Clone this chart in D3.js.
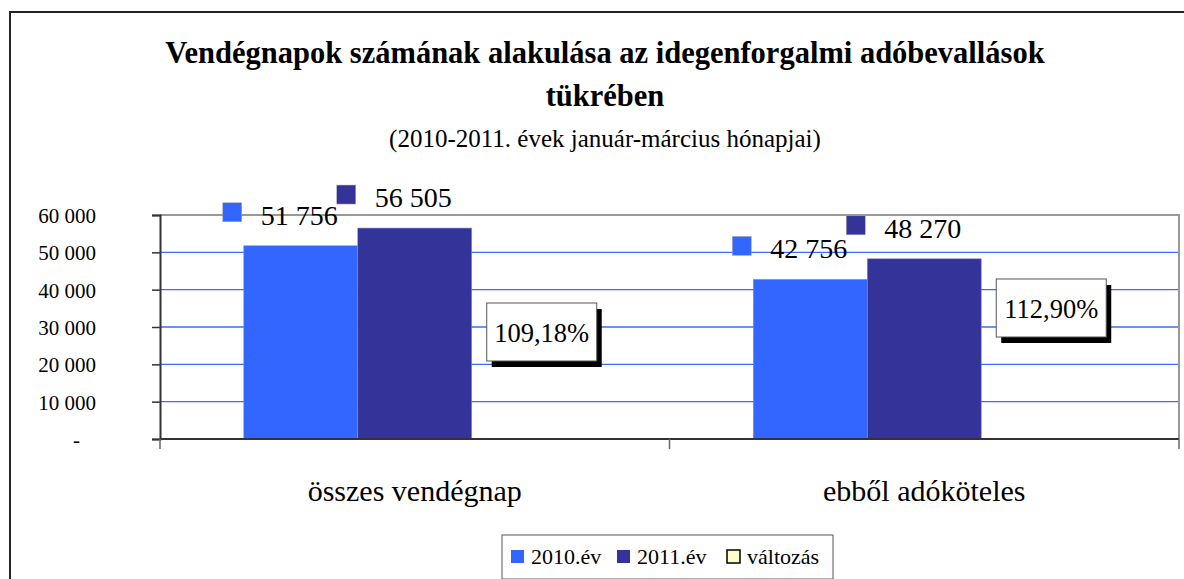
<!DOCTYPE html>
<html>
<head>
<meta charset="utf-8">
<script src="https://cdn.jsdelivr.net/npm/d3@7"></script>
<style>
  body { margin: 0; background: #fff; }
  svg text { font-family: "Liberation Serif", "DejaVu Serif", serif !important; }
</style>
</head>
<body>
<svg width="1184" height="579"></svg>
<script>
// data
var categories = ["összes vendégnap", "ebből adóköteles"];
var seriesNames = ["2010.év", "2011.év", "változás"];
var values2010 = [51756, 42756];
var values2011 = [56505, 48270];
var changeValues = [1.0918, 1.1290];
var changeLabels = ["109,18%", "112,90%"];
var yTickValues = [0, 10000, 20000, 30000, 40000, 50000, 60000];

var colors = ["#3366ff", "#333399", "#ffffcc"];

var svg = d3.select("svg"),
    width = +svg.attr("width"),
    height = +svg.attr("height");

var hu = d3.formatLocale({decimal: ",", thousands: " ", grouping: [3], currency: ["", ""]});
var fmt = hu.format(",.0f");

var plot = {left: 160, right: 1179, top: 215, bottom: 439};

// outer chart border
svg.append("rect")
    .attr("x", 10).attr("y", 12)
    .attr("width", width + 20).attr("height", height + 20)
    .attr("fill", "none")
    .attr("stroke", "#222")
    .attr("stroke-width", 2);

// titles
svg.append("text")
    .attr("x", 605).attr("y", 63)
    .attr("text-anchor", "middle")
    .attr("font-size", 30.5).attr("font-weight", "bold")
    .text("Vendégnapok számának alakulása az idegenforgalmi adóbevallások");
svg.append("text")
    .attr("x", 605).attr("y", 106)
    .attr("text-anchor", "middle")
    .attr("font-size", 30.5).attr("font-weight", "bold")
    .text("tükrében");
svg.append("text")
    .attr("x", 605).attr("y", 147)
    .attr("text-anchor", "middle")
    .attr("font-size", 25)
    .text("(2010-2011. évek január-március hónapjai)");

var x0 = d3.scaleBand()
    .domain(categories)
    .range([plot.left, plot.right]);

var x1 = d3.scaleBand()
    .domain(seriesNames)
    .range([0, x0.bandwidth()])
    .paddingOuter(0.735);

var y = d3.scaleLinear()
    .domain([0, 60000])
    .range([plot.bottom, plot.top]);

// gridlines
svg.append("g")
  .selectAll("line")
  .data(yTickValues.filter(function(d) { return d > 0; }))
  .enter().append("line")
    .attr("x1", plot.left).attr("x2", plot.right)
    .attr("y1", function(d) { return y(d); })
    .attr("y2", function(d) { return y(d); })
    .attr("stroke", "#3d6bff")
    .attr("stroke-width", 1.3);

// plot area border (top + right)
svg.append("path")
    .attr("d", "M" + plot.left + "," + plot.top + "H" + plot.right + "V" + plot.bottom)
    .attr("fill", "none")
    .attr("stroke", "#999")
    .attr("stroke-width", 2);

var rows = categories.map(function(c, i) {
  return {cat: c, vals: [values2010[i], values2011[i], changeValues[i]]};
});

var groups = svg.append("g")
  .selectAll("g")
  .data(rows)
  .enter().append("g")
    .attr("transform", function(d) { return "translate(" + x0(d.cat) + ",0)"; });

groups.selectAll("rect")
  .data(function(d) { return d.vals.slice(0, 2).map(function(v, j) { return {s: seriesNames[j], v: v, j: j}; }); })
  .enter().append("rect")
    .attr("x", function(d) { return x1(d.s); })
    .attr("width", x1.bandwidth())
    .attr("y", function(d) { return y(d.v); })
    .attr("height", function(d) { return y(0) - y(d.v); })
    .attr("fill", function(d) { return colors[d.j]; })
    .attr("stroke", "#8a8fd0")
    .attr("stroke-width", 0.6);

// value labels with legend keys
var lab = groups.selectAll("g.lab")
  .data(function(d) { return d.vals.slice(0, 2).map(function(v, j) { return {s: seriesNames[j], v: v, j: j}; }); })
  .enter().append("g")
    .attr("class", "lab")
    .attr("transform", function(d) {
      return "translate(" + (x1(d.s) + x1.bandwidth() / 2) + "," + y(d.v) + ")";
    });
lab.append("rect")
    .attr("x", -78).attr("y", -43)
    .attr("width", 19).attr("height", 19)
    .attr("fill", function(d) { return colors[d.j]; })
    .attr("stroke", "#aab")
    .attr("stroke-width", 0.5);
lab.append("text")
    .attr("x", -40).attr("y", -21)
    .attr("font-size", 28)
    .text(function(d) { return fmt(d.v); });

// change labels (boxes with shadow)
var boxTop = [303, 279];
var boxW = 110, boxH = 58;
var cb = groups.append("g")
    .attr("transform", function(d, i) {
      return "translate(" + (x1("változás") + x1.bandwidth() / 2 + 13 - boxW / 2) + "," + boxTop[i] + ")";
    });
cb.append("rect")
    .attr("x", 5).attr("y", 6)
    .attr("width", boxW).attr("height", boxH)
    .attr("fill", "#000");
cb.append("rect")
    .attr("width", boxW).attr("height", boxH)
    .attr("fill", "#fff")
    .attr("stroke", "#555")
    .attr("stroke-width", 1);
cb.append("text")
    .attr("x", boxW / 2).attr("y", boxH / 2 + 10)
    .attr("text-anchor", "middle")
    .attr("font-size", 26.5)
    .text(function(d, i) { return changeLabels[i]; });

// y axis
var yAxis = svg.append("g")
    .attr("transform", "translate(" + plot.left + ",0)")
    .call(d3.axisLeft(y).tickValues(yTickValues).tickSize(8).tickPadding(56)
      .tickFormat(function(d) { return d === 0 ? "-" : fmt(d); }));
yAxis.selectAll("text")
    .attr("font-size", 21)
    .attr("fill", "#000")
    .attr("dy", "0.35em");
yAxis.selectAll(".tick")
    .filter(function(d) { return d === 0; })
    .select("text")
    .attr("x", -80);
yAxis.select(".domain").attr("stroke", "#333").attr("stroke-width", 2);
yAxis.selectAll(".tick line").attr("stroke", "#333").attr("stroke-width", 1.5);

// x axis
var xAxisG = svg.append("g");
xAxisG.append("line")
    .attr("x1", plot.left).attr("x2", plot.right)
    .attr("y1", plot.bottom).attr("y2", plot.bottom)
    .attr("stroke", "#333").attr("stroke-width", 2);
xAxisG.selectAll("line.tk")
  .data([plot.left].concat(categories.map(function(c) { return x0(c) + x0.bandwidth(); })))
  .enter().append("line")
    .attr("class", "tk")
    .attr("x1", function(d) { return d; }).attr("x2", function(d) { return d; })
    .attr("y1", plot.bottom).attr("y2", plot.bottom + 10)
    .attr("stroke", "#666").attr("stroke-width", 1.5);
xAxisG.selectAll("text")
  .data(categories)
  .enter().append("text")
    .attr("x", function(d) { return x0(d) + x0.bandwidth() / 2; })
    .attr("y", 501)
    .attr("text-anchor", "middle")
    .attr("font-size", 30)
    .text(function(d) { return d; });

// legend
var legend = svg.append("g").attr("transform", "translate(502,535)");
legend.append("rect")
    .attr("width", 331).attr("height", 44)
    .attr("fill", "#fff")
    .attr("stroke", "#555").attr("stroke-width", 1);
var legendX = [9, 115, 225];
var li = legend.selectAll("g.item")
  .data(seriesNames)
  .enter().append("g")
    .attr("transform", function(d, i) { return "translate(" + legendX[i] + ",15)"; });
li.append("rect")
    .attr("width", 13).attr("height", 13)
    .attr("fill", function(d, i) { return colors[i]; })
    .attr("stroke", function(d, i) { return i === 2 ? "#000" : "none"; })
    .attr("stroke-width", 1.5);
li.append("text")
    .attr("x", 20).attr("y", 14)
    .attr("font-size", 22)
    .text(function(d) { return d; });
</script>
</body>
</html>
